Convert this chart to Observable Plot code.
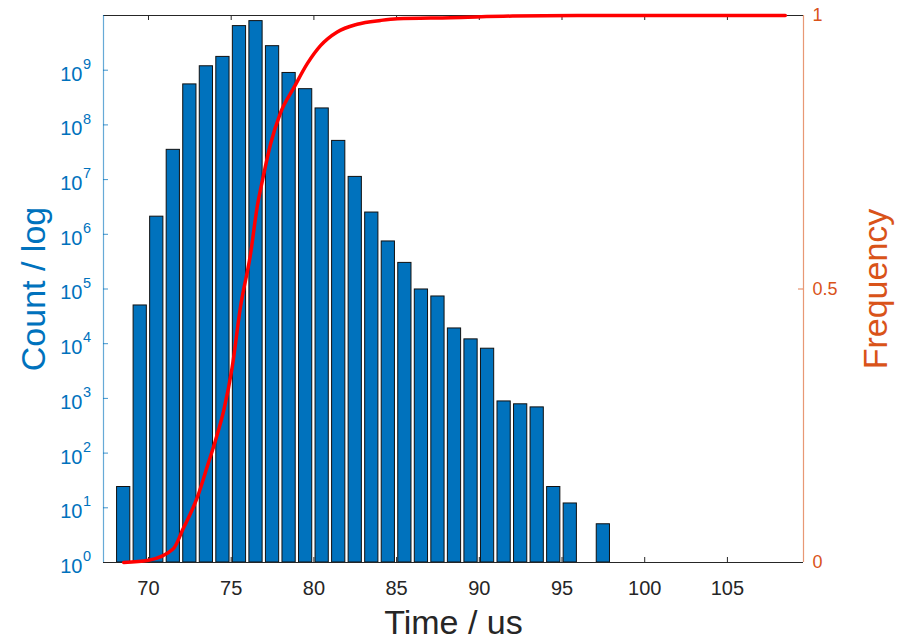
<!DOCTYPE html>
<html>
<head>
<meta charset="utf-8">
<script src="https://cdn.jsdelivr.net/npm/d3@7"></script>
<script src="https://cdn.jsdelivr.net/npm/@observablehq/plot@0.6"></script>
<style>
  html, body { margin: 0; padding: 0; background: #ffffff; }
  #chart { position: relative; width: 899px; height: 640px; }
  #chart svg { position: absolute; left: 0; top: 0; }
</style>
</head>
<body>
<div id="chart"></div>
<script>
// ---- data ----
const binCenters = [68.5, 69.5, 70.5, 71.5, 72.5, 73.5, 74.5, 75.5, 76.5, 77.5,
                    78.5, 79.5, 80.5, 81.5, 82.5, 83.5, 84.5, 85.5, 86.5, 87.5,
                    88.5, 89.5, 90.5, 91.5, 92.5, 93.5, 94.5, 95.5, 97.5];
const counts = [24, 5.0e4, 2.1e6, 3.5e7, 5.5e8, 1.18e9, 1.75e9, 6.4e9, 7.9e9, 2.75e9,
                8.9e8, 4.5e8, 2.0e8, 5.1e7, 1.12e7, 2.5e6, 7.4e5, 3.0e5, 9.8e4, 7.3e4,
                1.9e4, 1.2e4, 8.1e3, 880, 780, 685, 24, 12, 5];
const freqTime = [68.5, 70.0, 71.5, 72.1, 72.95, 73.6, 74.05, 74.55, 75.06, 75.56,
                  76.17, 76.57, 76.9, 77.38, 77.98, 78.79, 79.6, 80.4, 81.41, 82.62,
                  84.03, 85.04, 88.26, 92, 96, 108.5];
const freqValue = [0, 0.004, 0.025, 0.062, 0.119, 0.18, 0.223, 0.278, 0.357, 0.467,
                   0.564, 0.65, 0.7, 0.765, 0.822, 0.868, 0.912, 0.945, 0.97, 0.984,
                   0.991, 0.994, 0.996, 0.999, 1, 1];
const xTicks = [70, 75, 80, 85, 90, 95, 100, 105];
const yExponents = [0, 1, 2, 3, 4, 5, 6, 7, 8, 9];
const freqTicks = [0, 0.5, 1];
const xLabel = "Time / us";
const yLabel = "Count / log";
const y2Label = "Frequency";
const barWidth = 0.8;

// ---- styling ----
const BLUE = "#0072BD", ORANGE = "#D95319", AXIS = "#262626";
const FONT = "'Liberation Sans', Arial, Helvetica, sans-serif";
const xDomain = [67.28, 109.6];
const common = {
  width: 899, height: 640,
  marginLeft: 103, marginRight: 96, marginTop: 15, marginBottom: 78,
  style: { fontFamily: FONT, background: "transparent", overflow: "visible" }
};

const bars = binCenters.map((t, i) => ({ t, count: counts[i] }));
const freq = freqTime.map((t, i) => ({ t, f: freqValue[i] }));

const plot1 = Plot.plot({
  ...common,
  x: { domain: xDomain, axis: null },
  y: { type: "log", domain: [1, 1e10], axis: null },
  marks: [
    Plot.rectY(bars, {
      x1: d => d.t - barWidth / 2, x2: d => d.t + barWidth / 2,
      y1: 1, y2: "count",
      fill: BLUE, stroke: "#111111", strokeWidth: 1
    }),
    // inward ticks
    Plot.gridX({ ticks: xTicks, stroke: AXIS, strokeOpacity: 1, strokeWidth: 1, insetTop: 542 }),
    Plot.gridX({ ticks: xTicks, stroke: AXIS, strokeOpacity: 1, strokeWidth: 1, insetBottom: 542 }),
    Plot.gridY({ ticks: yExponents.map(e => 10 ** e), stroke: BLUE, strokeOpacity: 0.75, strokeWidth: 1, insetRight: 695 }),
    // frame lines
    Plot.ruleY([1], { stroke: AXIS, strokeWidth: 1 }),
    Plot.ruleY([1e10], { stroke: AXIS, strokeWidth: 1 }),
    Plot.ruleX([xDomain[0]], { stroke: BLUE, strokeOpacity: 0.6, strokeWidth: 1.2 }),
    // x tick labels
    Plot.axisX({ ticks: xTicks, tickSize: 0, tickPadding: 18, fontSize: 20, color: AXIS, label: null, tickFormat: d => String(d) }),
    // y tick labels 10^n
    Plot.text(yExponents, { y: d => 10 ** d, frameAnchor: "left", text: () => "10", textAnchor: "end", dx: -21, dy: 4, fontSize: 20, fill: BLUE }),
    Plot.text(yExponents, { y: d => 10 ** d, frameAnchor: "left", text: d => String(d), textAnchor: "start", dx: -20.5, dy: -6, fontSize: 14.5, fill: BLUE }),
    // axis titles
    Plot.text([xLabel], { frameAnchor: "bottom", text: d => d, textAnchor: "middle", lineAnchor: "bottom", dy: 71, fontSize: 34, fill: AXIS }),
    Plot.text([yLabel], { frameAnchor: "left", text: d => d, textAnchor: "middle", rotate: -90, lineAnchor: "bottom", dx: -59, fontSize: 34, fill: BLUE })
  ]
});

const plot2 = Plot.plot({
  ...common,
  x: { domain: xDomain, axis: null },
  y: { domain: [0, 1], axis: null },
  marks: [
    Plot.line(freq, { x: "t", y: "f", curve: "monotone-x", stroke: "#FF0000", strokeWidth: 3.5, strokeLinejoin: "round", strokeLinecap: "round" }),
    Plot.ruleX([xDomain[1]], { stroke: ORANGE, strokeOpacity: 0.6, strokeWidth: 1.2 }),
    Plot.gridY({ ticks: [0.5], stroke: ORANGE, strokeOpacity: 0.75, strokeWidth: 1, insetLeft: 695 }),
    Plot.axisY({ anchor: "right", ticks: freqTicks, tickSize: 0, tickPadding: 9, fontSize: 18, color: ORANGE, label: null, tickFormat: d => String(d) }),
    Plot.text([y2Label], { frameAnchor: "right", text: d => d, textAnchor: "middle", rotate: -90, lineAnchor: "bottom", dx: 83, fontSize: 34, fill: ORANGE })
  ]
});

const chart = document.getElementById("chart");
chart.appendChild(plot1);
chart.appendChild(plot2);
</script>
</body>
</html>
